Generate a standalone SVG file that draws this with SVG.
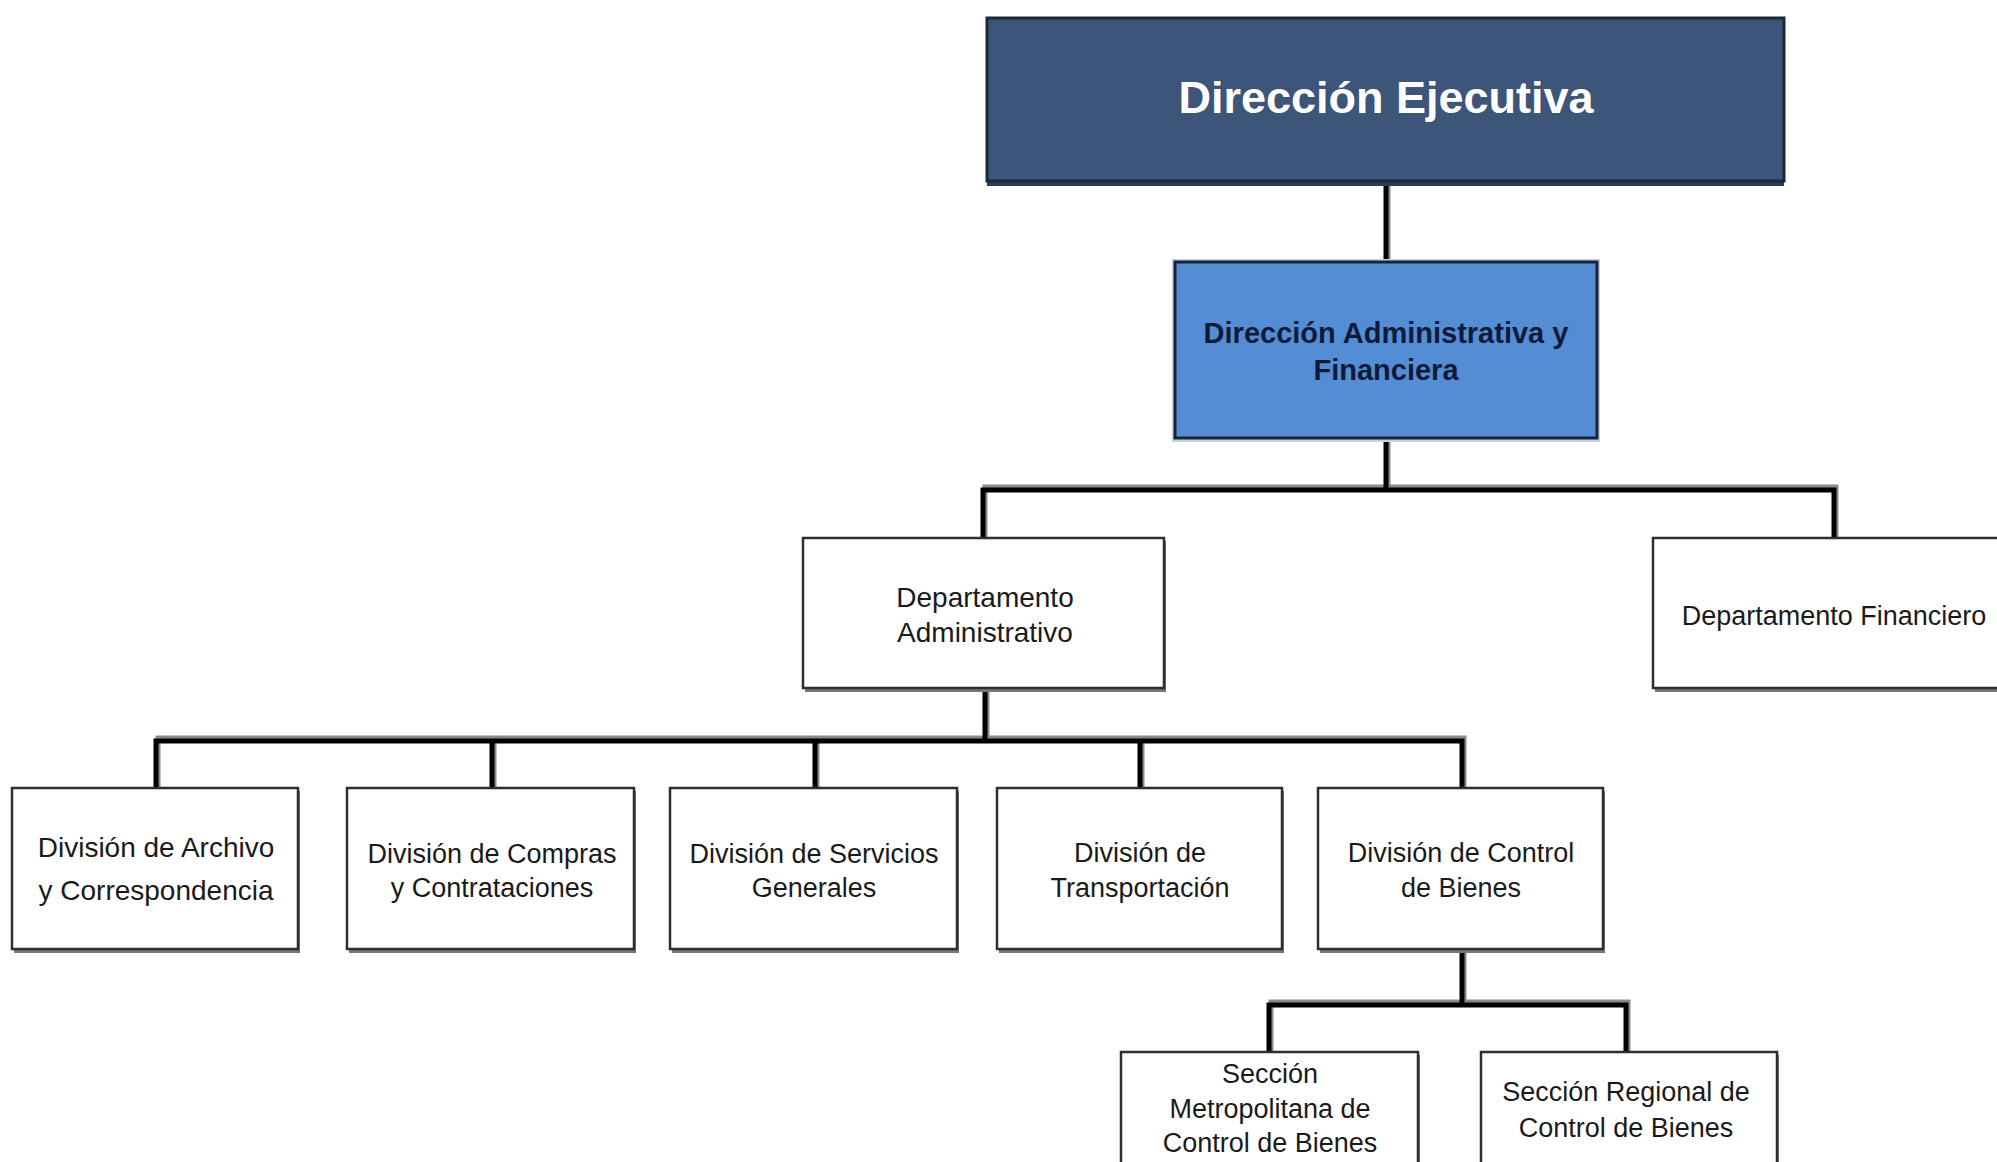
<svg xmlns="http://www.w3.org/2000/svg" width="1997" height="1162" viewBox="0 0 1997 1162">
<style>
  .box { fill: #ffffff; stroke: #2e2e2e; stroke-width: 2.5; }
  .shadow { fill: #777777; }
  .t { font-family: "Liberation Sans", Arial, sans-serif; font-size: 27px; fill: #1a1a1a; text-anchor: middle; }
  .t28 { font-size: 28px; }
  .title { font-family: "Liberation Sans", Arial, sans-serif; font-size: 45px; font-weight: bold; fill: #ffffff; text-anchor: middle; }
  .sub { font-family: "Liberation Sans", Arial, sans-serif; font-size: 29px; font-weight: bold; fill: #0e1a3a; text-anchor: middle; }
  .line { fill: none; stroke: #000000; stroke-width: 5; stroke-linejoin: miter; stroke-linecap: square; }
  .lshadow { fill: none; stroke: #8a8a8a; stroke-width: 5; stroke-linecap: square; }
</style>
<rect x="0" y="0" width="1997" height="1162" fill="#ffffff"/>

<g id="connectors">
  <g class="lshadow" transform="translate(2,-3)">
    <path d="M1386 186 V262"/>
    <path d="M1386 441 V490 M983 538 V490 H1834 V538"/>
    <path d="M985 692 V741 M156 788 V741 H1462 V788 M492 741 V788 M815 741 V788 M1140 741 V788"/>
    <path d="M1462 955 V1005 M1269 1052 V1005 H1626 V1052"/>
  </g>
  <g class="line">
    <path d="M1386 186 V262"/>
    <path d="M1386 441 V490 M983 538 V490 H1834 V538"/>
    <path d="M985 692 V741 M156 788 V741 H1462 V788 M492 741 V788 M815 741 V788 M1140 741 V788"/>
    <path d="M1462 955 V1005 M1269 1052 V1005 H1626 V1052"/>
  </g>
</g>

<g id="direccion-ejecutiva">
  <rect x="987" y="22" width="797" height="164" fill="#2b3d54"/>
  <rect x="987" y="18" width="797" height="163" fill="#3c5578" stroke="#1b2838" stroke-width="3"/>
  <text class="title" x="1386" y="113">Dirección Ejecutiva</text>
</g>

<g id="direccion-administrativa">
  <rect x="1172" y="259" width="428" height="183" fill="#c9d0dc"/>
  <rect x="1175" y="262" width="422" height="176" fill="#548dd4" stroke="#15233d" stroke-width="3"/>
  <text class="sub" x="1386" y="343">Dirección Administrativa y</text>
  <text class="sub" x="1386" y="380">Financiera</text>
</g>

<g id="departamento-administrativo">
  <rect class="shadow" x="805" y="541" width="361" height="151"/>
  <rect class="box" x="803" y="538" width="361" height="150"/>
  <text class="t t28" x="985" y="607">Departamento</text>
  <text class="t t28" x="985" y="642">Administrativo</text>
</g>

<g id="departamento-financiero">
  <rect class="shadow" x="1655" y="541" width="360" height="151"/>
  <rect class="box" x="1653" y="538" width="360" height="150"/>
  <text class="t" x="1834" y="625">Departamento Financiero</text>
</g>

<g id="division-archivo">
  <rect class="shadow" x="14" y="791" width="286" height="162"/>
  <rect class="box" x="12" y="788" width="286" height="161"/>
  <text class="t t28" x="156" y="857">División de Archivo</text>
  <text class="t t28" x="156" y="900">y Correspondencia</text>
</g>

<g id="division-compras">
  <rect class="shadow" x="349" y="791" width="287" height="162"/>
  <rect class="box" x="347" y="788" width="287" height="161"/>
  <text class="t" x="492" y="863">División de Compras</text>
  <text class="t" x="492" y="897">y Contrataciones</text>
</g>

<g id="division-servicios">
  <rect class="shadow" x="672" y="791" width="287" height="162"/>
  <rect class="box" x="670" y="788" width="287" height="161"/>
  <text class="t" x="814" y="863">División de Servicios</text>
  <text class="t" x="814" y="897">Generales</text>
</g>

<g id="division-transportacion">
  <rect class="shadow" x="999" y="791" width="285" height="162"/>
  <rect class="box" x="997" y="788" width="285" height="161"/>
  <text class="t" x="1140" y="862">División de</text>
  <text class="t" x="1140" y="897">Transportación</text>
</g>

<g id="division-control-bienes">
  <rect class="shadow" x="1320" y="791" width="285" height="162"/>
  <rect class="box" x="1318" y="788" width="285" height="161"/>
  <text class="t" x="1461" y="862">División de Control</text>
  <text class="t" x="1461" y="897">de Bienes</text>
</g>

<g id="seccion-metropolitana">
  <rect class="shadow" x="1123" y="1055" width="297" height="160"/>
  <rect class="box" x="1121" y="1052" width="297" height="160"/>
  <text class="t" x="1270" y="1083">Sección</text>
  <text class="t" x="1270" y="1118">Metropolitana de</text>
  <text class="t" x="1270" y="1152">Control de Bienes</text>
</g>

<g id="seccion-regional">
  <rect class="shadow" x="1483" y="1055" width="296" height="160"/>
  <rect class="box" x="1481" y="1052" width="296" height="160"/>
  <text class="t" x="1626" y="1101">Sección Regional de</text>
  <text class="t" x="1626" y="1137">Control de Bienes</text>
</g>
</svg>
